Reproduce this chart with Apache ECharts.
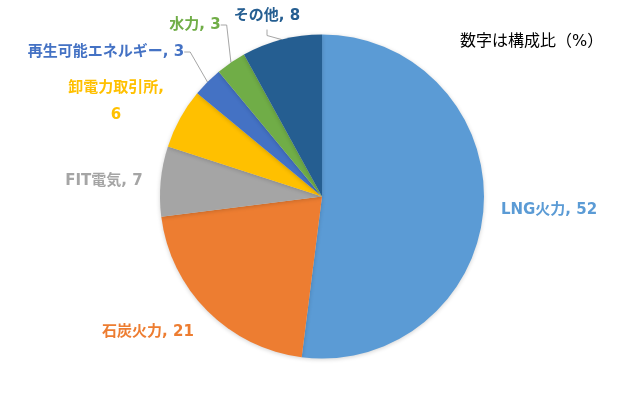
<!DOCTYPE html>
<html>
<head>
<meta charset="utf-8">
<script src="https://cdn.jsdelivr.net/npm/echarts@6/dist/echarts.min.js"></script>
<style>
html,body{margin:0;padding:0;background:#fff;}
#main{width:640px;height:400px;}
</style>
</head>
<body>
<div id="main"></div>
<script>
// Data
var categories = ['LNG火力', '石炭火力', 'FIT電気', '卸電力取引所', '再生可能エネルギー', '水力', 'その他'];
var values = [52, 21, 7, 6, 3, 3, 8];
var noteText = '数字は構成比（%）';

// Styling (not data)
var colors = ['#5B9BD5', '#ED7D31', '#A5A5A5', '#FFC000', '#4472C4', '#70AD47', '#255E91'];
var labelPos = [[549, 210], [148, 332], [104, 181], [116, 102], [106, 52], [195, 25], [267, 16]];
var showLine = [false, false, false, false, true, true, true];

var chart = echarts.init(document.getElementById('main'), null, {renderer: 'canvas'});

var seriesData = categories.map(function (name, i) {
  return {
    name: name,
    value: values[i],
    itemStyle: {color: colors[i]},
    label: {
      color: colors[i],
      formatter: i === 3 ? '{b},\n{c}' : '{b}, {c}'
    },
    labelLine: {show: showLine[i]}
  };
});

chart.setOption({
  backgroundColor: '#ffffff',
  animation: false,
  graphic: [{
    type: 'text',
    left: 460,
    top: 34,
    style: {
      text: noteText,
      fill: '#000000',
      font: '16px "DejaVu Sans", "Noto Sans CJK JP"'
    }
  }],
  series: [{
    type: 'pie',
    center: [322, 196.5],
    radius: 162,
    startAngle: 90,
    clockwise: true,
    avoidLabelOverlap: false,
    itemStyle: {
      borderWidth: 0,
      shadowBlur: 4,
      shadowColor: 'rgba(0,0,0,0.18)',
      shadowOffsetY: 1
    },
    label: {
      show: true,
      position: 'outside',
      fontFamily: '"DejaVu Sans", "Noto Sans CJK JP"',
      fontWeight: 'bold',
      fontSize: 15,
      lineHeight: 27,
      align: 'center'
    },
    labelLine: {
      length: 6,
      length2: 6,
      lineStyle: {color: '#A6A6A6', width: 1}
    },
    labelLayout: function (params) {
      var p = labelPos[params.dataIndex];
      return {x: p[0], y: p[1], align: 'center', verticalAlign: 'middle'};
    },
    data: seriesData
  }]
});
</script>
</body>
</html>
